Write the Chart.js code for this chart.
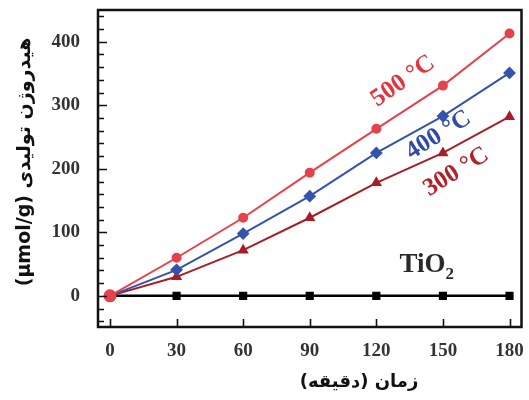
<!DOCTYPE html>
<html>
<head>
<meta charset="utf-8">
<script src="https://cdn.jsdelivr.net/npm/chart.js@4.4.0/dist/chart.umd.min.js"></script>
<style>
  html, body { margin: 0; padding: 0; background: #fff; }
</style>
</head>
<body>
<canvas id="h2-chart" width="529" height="400"></canvas>
<script>
// time in minutes and hydrogen produced (µmol/g) per calcination temperature
const minutes = [0, 30, 60, 90, 120, 150, 180];
const h2At500 = [0, 60, 123, 194, 263, 331, 413];
const h2At400 = [0, 41, 98, 157, 225, 283, 351];
const h2At300 = [0, 30, 72, 123, 178, 225, 282];
const h2TiO2 = [0, 0, 0, 0, 0, 0, 0];

const xTicks = [0, 30, 60, 90, 120, 150, 180];
const yTicks = [0, 100, 200, 300, 400];

const xTitle = "زمان (دقیقه)";
const yTitle = "هیدروژن تولیدی (µmol/g)";

const tickFont = { family: "'Liberation Serif', serif", size: 19, weight: "bold" };

function pts(values) {
    return values.map((v, i) => ({ x: minutes[i], y: v }));
}

// inward ticks, frame around the plot and both axis titles
const frameAndTicks = {
    id: "frameAndTicks",
    afterDraw(chart) {
        const c = chart.ctx;
        const a = chart.chartArea;
        const xs = chart.scales.x;
        const ys = chart.scales.y;
        c.save();
        c.strokeStyle = "#111";
        c.lineWidth = 1.6;
        c.beginPath();
        for (let v = -40; v <= 440; v += 20) {
            const y = Math.round(ys.getPixelForValue(v)) + 0.5;
            const len = v % 100 === 0 ? 9 : 6;
            c.moveTo(a.left, y);
            c.lineTo(a.left + len, y);
        }
        xTicks.forEach(v => {
            const x = Math.round(xs.getPixelForValue(v)) + 0.5;
            c.moveTo(x, a.bottom + 1);
            c.lineTo(x, a.bottom - 8);
        });
        c.stroke();

        c.lineWidth = 2.5;
        c.strokeRect(a.left, a.top, a.right - a.left, a.bottom - a.top);

        // axis titles (right-to-left text)
        c.fillStyle = "#111";
        c.direction = "rtl";
        c.textAlign = "center";
        c.textBaseline = "middle";
        c.font = "bold 18px 'DejaVu Sans', sans-serif";
        c.fillText(xTitle, 359, 382);
        c.font = "bold 19px 'DejaVu Sans', sans-serif";
        c.translate(25, 162);
        c.rotate(-Math.PI / 2);
        c.fillText(yTitle, 0, 0);
        c.restore();
    }
};

// temperature labels along the curves and the TiO2 tag
const seriesLabels = {
    id: "seriesLabels",
    afterDatasetsDraw(chart) {
        const c = chart.ctx;
        const xs = chart.scales.x;
        const ys = chart.scales.y;
        const items = [
            { text: "500 °C", x: 132, y: 338, color: "#e3333f", angle: -35 },
            { text: "400 °C", x: 148, y: 253, color: "#2f4aa8", angle: -32 },
            { text: "300 °C", x: 156, y: 195, color: "#b3222a", angle: -32 }
        ];
        c.save();
        c.direction = "ltr";
        c.textAlign = "center";
        c.textBaseline = "middle";
        c.font = "bold 25px 'Liberation Serif', serif";
        items.forEach(it => {
            c.save();
            c.translate(xs.getPixelForValue(it.x), ys.getPixelForValue(it.y));
            c.rotate(it.angle * Math.PI / 180);
            c.fillStyle = it.color;
            c.fillText(it.text, 0, 0);
            c.restore();
        });

        const tx = xs.getPixelForValue(143);
        const ty = ys.getPixelForValue(49);
        c.fillStyle = "#2a2a2a";
        c.textAlign = "left";
        c.font = "bold 27px 'Liberation Serif', serif";
        const w = c.measureText("TiO").width;
        const start = tx - (w + 10) / 2;
        c.fillText("TiO", start, ty);
        c.font = "bold 17px 'Liberation Serif', serif";
        c.fillText("2", start + w, ty + 10);
        c.restore();
    }
};

new Chart(document.getElementById("h2-chart"), {
    type: "line",
    data: {
        datasets: [
            {
                label: "500 °C",
                data: pts(h2At500),
                borderColor: "#e8414b",
                backgroundColor: "#e8414b",
                pointStyle: "circle",
                pointRadius: [5.5, 4, 4, 4, 4, 4, 4],
                borderWidth: 2
            },
            {
                label: "400 °C",
                data: pts(h2At400),
                borderColor: "#3552ad",
                backgroundColor: "#3552ad",
                pointStyle: "rectRot",
                pointRadius: 5,
                borderWidth: 2
            },
            {
                label: "300 °C",
                data: pts(h2At300),
                borderColor: "#a81e26",
                backgroundColor: "#a81e26",
                pointStyle: "triangle",
                pointRadius: 4.5,
                borderWidth: 2
            },
            {
                label: "TiO2",
                data: pts(h2TiO2),
                borderColor: "#000",
                backgroundColor: "#000",
                pointStyle: "rect",
                pointRadius: 4,
                borderWidth: 2.5
            }
        ]
    },
    options: {
        responsive: false,
        animation: false,
        layout: { padding: { top: 10, right: 3, left: 0, bottom: 0 } },
        plugins: {
            legend: { display: false },
            tooltip: { enabled: false }
        },
        elements: { line: { tension: 0 } },
        scales: {
            x: {
                type: "linear",
                min: -5.4,
                max: 185.4,
                afterBuildTicks: s => { s.ticks = xTicks.map(v => ({ value: v })); },
                afterFit: s => { s.height = 73; s.paddingLeft = 0; s.paddingRight = 0; },
                grid: { display: false },
                border: { display: false },
                ticks: { font: tickFont, color: "#333", padding: 5, maxRotation: 0, autoSkip: false }
            },
            y: {
                min: -49,
                max: 450,
                afterBuildTicks: s => { s.ticks = yTicks.map(v => ({ value: v })); },
                afterFit: s => { s.width = 98; s.paddingTop = 0; s.paddingBottom = 0; },
                grid: { display: false },
                border: { display: false },
                ticks: { font: tickFont, color: "#333", padding: 10 }
            }
        }
    },
    plugins: [frameAndTicks, seriesLabels]
});
</script>
</body>
</html>
